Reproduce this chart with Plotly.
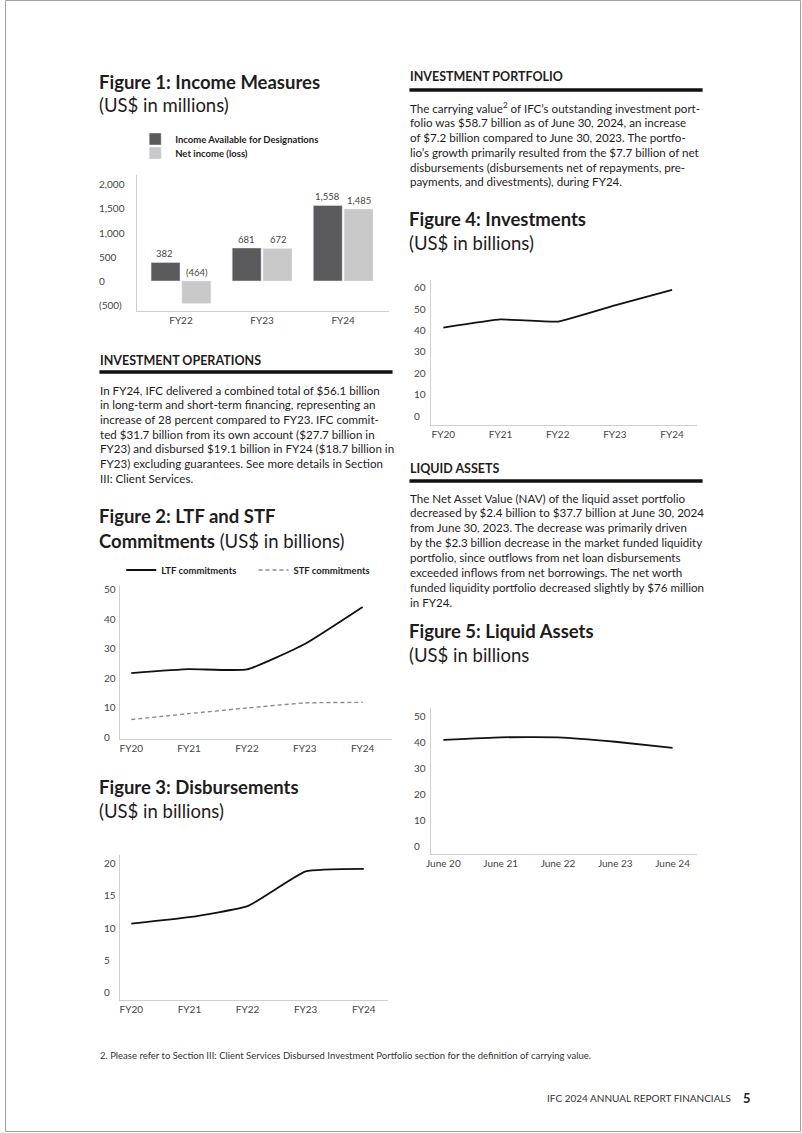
import plotly.graph_objects as go

W, H = 802, 1133
DX = -3
FONT = "Lato"
TXT = "#1f1c1d"
TICK = "#444444"
AXL = "#cfcfcf"

def X(p):
    return (p + DX) / W

def Y(p):
    return 1 - p / H

# ---------------- data ----------------
inc_cats = ["FY22", "FY23", "FY24"]
inc_avail = [382, 681, 1558]
net_income = [-464, 672, 1485]
inc_ticks = [2000, 1500, 1000, 500, 0, -500]

fy_cats = ["FY20", "FY21", "FY22", "FY23", "FY24"]
ltf = [21.6, 22.9, 22.8, 31.4, 43.9]
stf = [5.9, 7.9, 9.8, 11.5, 11.7]
comm_ticks = [0, 10, 20, 30, 40, 50]

disb = [10.6, 11.6, 13.3, 18.7, 19.1]
disb_ticks = [0, 5, 10, 15, 20]

invest = [41.1, 44.9, 43.9, 51.5, 58.7]
inv_ticks = [0, 10, 20, 30, 40, 50, 60]

june_cats = ["June 20", "June 21", "June 22", "June 23", "June 24"]
liquid = [40.8, 41.8, 41.8, 40.1, 37.7]
liq_ticks = [0, 10, 20, 30, 40, 50]

fig = go.Figure()

# ---------------- Figure 1 bars ----------------
fig.add_trace(go.Bar(x=inc_cats, y=inc_avail, name="Income Available for Designations",
                     marker_color="#5a5a5d", xaxis="x", yaxis="y", legend="legend"))
fig.add_trace(go.Bar(x=inc_cats, y=net_income, name="Net income (loss)",
                     marker_color="#c8c8c8", xaxis="x", yaxis="y", legend="legend2"))

# ---------------- Figure 2 ----------------
fig.add_trace(go.Scatter(x=fy_cats, y=ltf, mode="lines", name="LTF commitments",
                         line=dict(color="#111111", width=1.8, shape="spline", smoothing=0.4),
                         xaxis="x2", yaxis="y2", legend="legend3"))
fig.add_trace(go.Scatter(x=fy_cats, y=stf, mode="lines", name="STF commitments",
                         line=dict(color="#8c8c8c", width=1.4, dash="4px,3px", shape="spline", smoothing=0.4),
                         xaxis="x2", yaxis="y2", legend="legend4"))

# ---------------- Figure 3 ----------------
fig.add_trace(go.Scatter(x=fy_cats, y=disb, mode="lines", showlegend=False,
                         line=dict(color="#111111", width=1.8, shape="spline", smoothing=0.4),
                         xaxis="x3", yaxis="y3"))

# ---------------- Figure 4 ----------------
fig.add_trace(go.Scatter(x=fy_cats, y=invest, mode="lines", showlegend=False,
                         line=dict(color="#111111", width=1.8, shape="spline", smoothing=0.3),
                         xaxis="x4", yaxis="y4"))

# ---------------- Figure 5 ----------------
fig.add_trace(go.Scatter(x=june_cats, y=liquid, mode="lines", showlegend=False,
                         line=dict(color="#111111", width=1.8, shape="spline", smoothing=0.4),
                         xaxis="x5", yaxis="y5"))

def xa(l, r, rng):
    return dict(domain=[X(l), X(r)], range=rng, type="category", showline=True, linecolor=AXL,
                linewidth=1, showgrid=False, zeroline=False, ticks="",
                tickfont=dict(family=FONT, size=10, color=TICK), fixedrange=True)

def ya(t, b, rng, anchor):
    return dict(domain=[Y(b), Y(t)], range=rng, showline=True, linecolor=AXL, linewidth=1,
                showgrid=False, zeroline=False, showticklabels=False, ticks="", anchor=anchor,
                fixedrange=True)

layout = dict(
    width=W, height=H, margin=dict(l=0, r=0, t=0, b=0),
    paper_bgcolor="white", plot_bgcolor="white",
    barmode="group", bargap=0.24, bargroupgap=0.06,
    xaxis=dict(xa(136, 389, [-0.54, 2.56]), anchor="y"),
    yaxis=ya(175, 311, [-619, 2186], "x"),
    xaxis2=dict(xa(119, 392, [-0.19, 4.5]), anchor="y2"),
    yaxis2=ya(586, 739, [-0.68, 51.0], "x2"),
    xaxis3=dict(xa(119, 388, [-0.19, 4.41]), anchor="y3"),
    yaxis3=ya(855, 1000, [-1.24, 21.24], "x3"),
    xaxis4=dict(xa(432, 699, [-0.21, 4.43]), anchor="y4"),
    yaxis4=ya(280, 425, [-4.19, 63.26], "x4"),
    xaxis5=dict(xa(432, 699, [-0.21, 4.42]), anchor="y5"),
    yaxis5=ya(708, 854, [-3.08, 53.08], "x5"),
    showlegend=True,
)

def leg(x, y):
    return dict(x=X(x), y=Y(y), xanchor="left", yanchor="middle", bgcolor="rgba(0,0,0,0)",
                borderwidth=0, orientation="v",
                font=dict(family=FONT, size=9.5, color=TXT, weight="bold"))

layout["legend"] = leg(134, 139)
layout["legend2"] = leg(134, 153)
layout["legend3"] = leg(120, 570)
layout["legend4"] = leg(253, 570)

fig.update_layout(**layout)

ann = []

def text(x, y, s, size=12, bold=False, color=TXT, anchor="left"):
    ann.append(dict(x=X(x), y=Y(y), xref="paper", yref="paper", text=s, showarrow=False,
                    xanchor=anchor, yanchor="middle", borderpad=0,
                    font=dict(family=FONT, size=size, color=color,
                              weight="bold" if bold else "normal")))

def para(x, y0, lines, step=14.8, size=11.6):
    for i, l in enumerate(lines):
        text(x, y0 + i * step, l, size=size)

# y tick labels (left aligned, placed via axis scales)
def yticks(axis, xpix, vals, labels, size=10):
    for v, lab in zip(vals, labels):
        ann.append(dict(x=X(xpix), y=v, xref="paper", yref=axis, text=lab, showarrow=False,
                        xanchor="left", yanchor="middle", borderpad=0,
                        font=dict(family=FONT, size=size, color=TICK)))

def fmt(v):
    return f"({abs(v):,})" if v < 0 else f"{v:,}"

yticks("y", 97, inc_ticks, [fmt(v) for v in inc_ticks], size=10)
yticks("y2", 102, comm_ticks, [str(v) for v in comm_ticks])
yticks("y3", 102, disb_ticks, [str(v) for v in disb_ticks])
yticks("y4", 414, inv_ticks, [str(v) for v in inv_ticks])
yticks("y5", 414, liq_ticks, [str(v) for v in liq_ticks])

# bar value labels
for c, a, n in zip(inc_cats, inc_avail, net_income):
    for v, sh in ((a, -16), (n, 16)):
        ann.append(dict(x=c, y=max(v, 0), xref="x", yref="y", text=fmt(v), showarrow=False,
                        xanchor="center", yanchor="bottom", xshift=sh, yshift=1,
                        font=dict(family=FONT, size=9.5, color=TICK)))

# titles
text(97, 82, "Figure 1: Income Measures", size=18.5, bold=True)
text(97, 105, "(US$ in millions)", size=18.5)
text(97, 516, "Figure 2: LTF and STF", size=18.5, bold=True)
text(97, 541, "<b>Commitments</b> (US$ in billions)", size=18.5)
text(97, 787, "Figure 3: Disbursements", size=18.5, bold=True)
text(97, 811, "(US$ in billions)", size=18.5)
text(409, 219, "Figure 4: Investments", size=18.5, bold=True)
text(409, 243, "(US$ in billions)", size=18.5)
text(409, 631, "Figure 5: Liquid Assets", size=18.5, bold=True)
text(409, 655, "(US$ in billions", size=18.5)

# section headers
text(98, 360, "INVESTMENT OPERATIONS", size=12.5, bold=True)
text(410, 77, "INVESTMENT PORTFOLIO", size=12.5, bold=True)
text(410, 468, "LIQUID ASSETS", size=12.5, bold=True)

para(98, 390, [
    "In FY24, IFC delivered a combined total of $56.1 billion",
    "in long-term and short-term financing, representing an",
    "increase of 28 percent compared to FY23. IFC commit-",
    "ted $31.7 billion from its own account ($27.7 billion in",
    "FY23) and disbursed $19.1 billion in FY24 ($18.7 billion in",
    "FY23) excluding guarantees. See more details in Section",
    "III: Client Services.",
], step=14.7)

para(410, 108, [
    "The carrying value<sup>2</sup> of IFC\u2019s outstanding investment port-",
    "folio was $58.7 billion as of June 30, 2024, an increase",
    "of $7.2 billion compared to June 30, 2023. The portfo-",
    "lio\u2019s growth primarily resulted from the $7.7 billion of net",
    "disbursements (disbursements net of repayments, pre-",
    "payments, and divestments), during FY24.",
])

para(410, 498, [
    "The Net Asset Value (NAV) of the liquid asset portfolio",
    "decreased by $2.4 billion to $37.7 billion at June 30, 2024",
    "from June 30, 2023. The decrease was primarily driven",
    "by the $2.3 billion decrease in the market funded liquidity",
    "portfolio, since outflows from net loan disbursements",
    "exceeded inflows from net borrowings. The net worth",
    "funded liquidity portfolio decreased slightly by $76 million",
    "in FY24.",
], step=14.9)

text(98, 1055, "2. Please refer to Section III: Client Services Disbursed Investment Portfolio section for the definition of carrying value.",
     size=9.5, color="#333333")
text(735, 1098, "IFC 2024 ANNUAL REPORT FINANCIALS", size=10, color="#333333", anchor="right")
text(745, 1098, "5", size=13, bold=True)

shapes = [
    dict(type="line", xref="paper", yref="paper", x0=X(98), x1=X(393), y0=Y(372), y1=Y(372),
         line=dict(color="#111111", width=3.5)),
    dict(type="line", xref="paper", yref="paper", x0=X(410), x1=X(705), y0=Y(90), y1=Y(90),
         line=dict(color="#111111", width=3.5)),
    dict(type="line", xref="paper", yref="paper", x0=X(410), x1=X(705), y0=Y(481), y1=Y(481),
         line=dict(color="#111111", width=3.5)),
    dict(type="rect", xref="paper", yref="paper", x0=0.5 / W, x1=800.5 / W, y0=Y(1131.5), y1=Y(0.5),
         line=dict(color="#a0a0a0", width=1)),
]

fig.update_layout(annotations=ann, shapes=shapes)
fig.write_html("out.html", config={"displayModeBar": False},
               post_script="document.body.style.margin='0';document.body.style.padding='0';"
                           "document.documentElement.style.overflow='hidden';")
